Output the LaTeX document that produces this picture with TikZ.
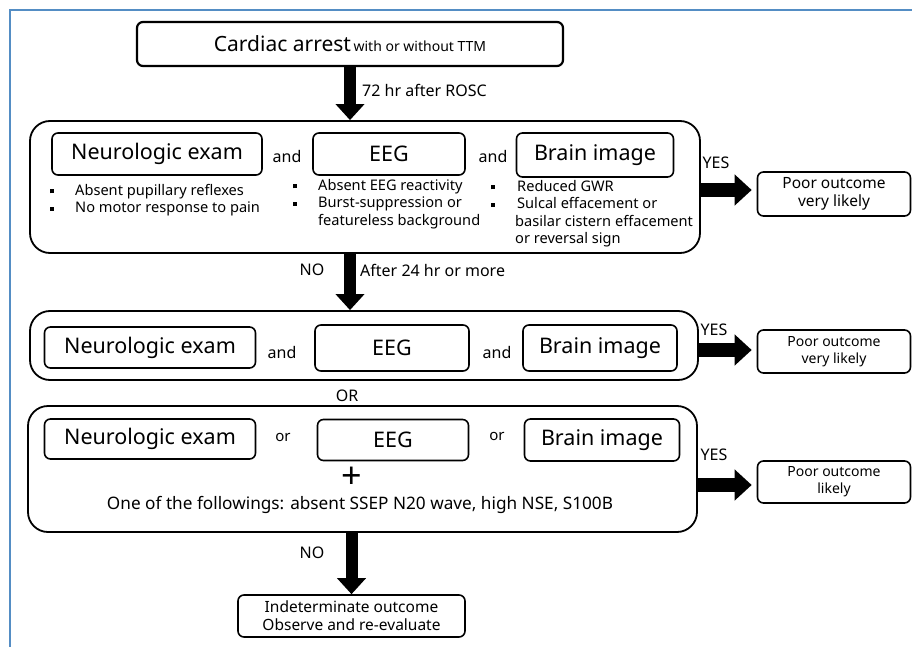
\documentclass[tikz,border=0pt]{standalone}
\usepackage{fontspec}
\setmainfont{Noto Sans}
\usetikzlibrary{arrows.meta}
\definecolor{framebl}{RGB}{84,141,196}
\tikzset{
  ibox/.style={draw, line width=1.6pt, rounded corners=6pt, align=center, inner sep=0pt, font=\fontsize{21.5}{24}\selectfont},
  bigbox/.style={draw, line width=1.8pt, rounded corners=20pt, inner sep=0pt},
  obox/.style={draw, line width=1.6pt, rounded corners=6pt, align=center, inner sep=0pt, minimum width=153pt},
  lbl/.style={inner sep=0pt, font=\fontsize{16}{18}\selectfont},
  vbig/.style={line width=12pt, -{Triangle[length=16pt,width=28pt]}},
  hbig/.style={line width=14pt, -{Triangle[length=17pt,width=30pt]}, shorten >=5pt},
  blist/.style={inner sep=0pt, anchor=north west, align=left, font=\fontsize{14.6}{17.5}\selectfont}
}
\newcommand{\sqb}{\rule[0.25ex]{4pt}{4pt}}
\begin{document}
\begin{tikzpicture}[x=1pt,y=-1pt]
\useasboundingbox (0,0) rectangle (912,647);
\draw[framebl, line width=2pt] (10,647) -- (10,10.5) -- (912,10.5);

% top
\node[draw, line width=2.2pt, rounded corners=6pt, minimum width=426pt, minimum height=44pt, inner sep=0pt] (ca) at (350,44)
  {{\fontsize{21}{24}\selectfont Cardiac arrest}\ {\fontsize{14}{16}\selectfont with or without TTM}};

% box 1
\node[bigbox, minimum width=670pt, minimum height=132pt] (b1) at (365,187) {};
\node[ibox, minimum width=210pt, minimum height=42pt] (n1) at (157,154) {Neurologic exam};
\node[ibox, minimum width=152pt, minimum height=42pt] (e1) at (389,154) {EEG};
\node[ibox, minimum width=157pt, minimum height=44pt] (g1) at (595,155) {Brain image};
\node[lbl] (a11) at (287,157) {and};
\node[lbl] (a12) at (493,157) {and};
\node[blist] (l1) at (50,183) {\begin{tabular}{@{}l@{\hspace{21pt}}l@{}}\sqb & Absent pupillary reflexes\\ \sqb & No motor response to pain\end{tabular}};
\node[blist] (l2) at (293,178) {\begin{tabular}{@{}l@{\hspace{21pt}}l@{}}\sqb & Absent EEG reactivity\\ \sqb & Burst-suppression or\\ & featureless background\end{tabular}};
\node[blist] (l3) at (491,179) {\begin{tabular}{@{}l@{\hspace{22pt}}l@{}}\sqb & Reduced GWR\\ \sqb & Sulcal effacement or\\ \multicolumn{2}{@{\hspace{24pt}}l@{}}{basilar cistern effacement}\\ \multicolumn{2}{@{\hspace{24pt}}l@{}}{or reversal sign}\end{tabular}};

% box 2
\node[bigbox, minimum width=668pt, minimum height=69pt] (b2) at (364,345.5) {};
\node[ibox, minimum width=211pt, minimum height=41pt] (n2) at (150,347.5) {Neurologic exam};
\node[ibox, minimum width=154pt, minimum height=46pt] (e2) at (392,348) {EEG};
\node[ibox, minimum width=154pt, minimum height=46pt] (g2) at (600,348) {Brain image};
\node[lbl] (a21) at (282,352) {and};
\node[lbl] (a22) at (497,352) {and};
\node[lbl] (or) at (347,396) {OR};

% box 3
\node[bigbox, minimum width=669pt, minimum height=126pt] (b3) at (362.5,469) {};
\node[ibox, minimum width=211pt, minimum height=40pt] (n3) at (150,439) {Neurologic exam};
\node[ibox, minimum width=151pt, minimum height=41pt] (e3) at (393,440) {EEG};
\node[ibox, minimum width=155pt, minimum height=42pt] (g3) at (602,440) {Brain image};
\node[lbl, font=\fontsize{15}{17}\selectfont] (o31) at (283,437) {or};
\node[lbl, font=\fontsize{15}{17}\selectfont] (o32) at (497,436) {or};
\node[inner sep=0pt, font=\fontsize{36}{36}\bfseries\selectfont, text height=20pt, text depth=0pt] (plus) at (352,478) {+};
\node[lbl, font=\fontsize{17.2}{19}\selectfont] (one) at (360,505) {One of the followings: absent SSEP N20 wave, high NSE, S100B};

% outcomes
\node[obox, minimum height=44pt, font=\fontsize{15.5}{18}\selectfont] (p1) at (834,194) {Poor outcome\\very likely};
\node[obox, minimum height=43pt, font=\fontsize{14}{17}\selectfont] (p2) at (834,351.5) {Poor outcome\\very likely};
\node[obox, minimum height=42pt, font=\fontsize{14}{17}\selectfont] (p3) at (834,482) {Poor outcome\\likely};
\node[obox, minimum width=227pt, minimum height=42pt, font=\fontsize{15.5}{18}\selectfont] (ind) at (351.5,616) {Indeterminate outcome\\Observe and re-evaluate};

% labels
\node[lbl, anchor=west] (t72) at (362,90) {72 hr after ROSC};
\node[lbl] (no1) at (312,270) {NO};
\node[lbl, anchor=west] (t24) at (360,270) {After 24 hr or more};
\node[lbl] (y1) at (716,163) {YES};
\node[lbl] (y2) at (714,330) {YES};
\node[lbl] (y3) at (714,455) {YES};
\node[lbl] (no2) at (312,553) {NO};

% arrows
\draw[vbig] (ca.south) -- (ca.south |- b1.north);
\draw[vbig] (b1.south -| ca) -- (b2.north -| ca);
\draw[vbig] (b3.south -| ind) -- (ind.north);
\draw[hbig] (b1.east |- 0,190) -- (p1.west |- 0,190);
\draw[hbig] (b2.east |- 0,350) -- (p2.west |- 0,350);
\draw[hbig] (b3.east |- 0,485) -- (p3.west |- 0,485);
\end{tikzpicture}
\end{document}
